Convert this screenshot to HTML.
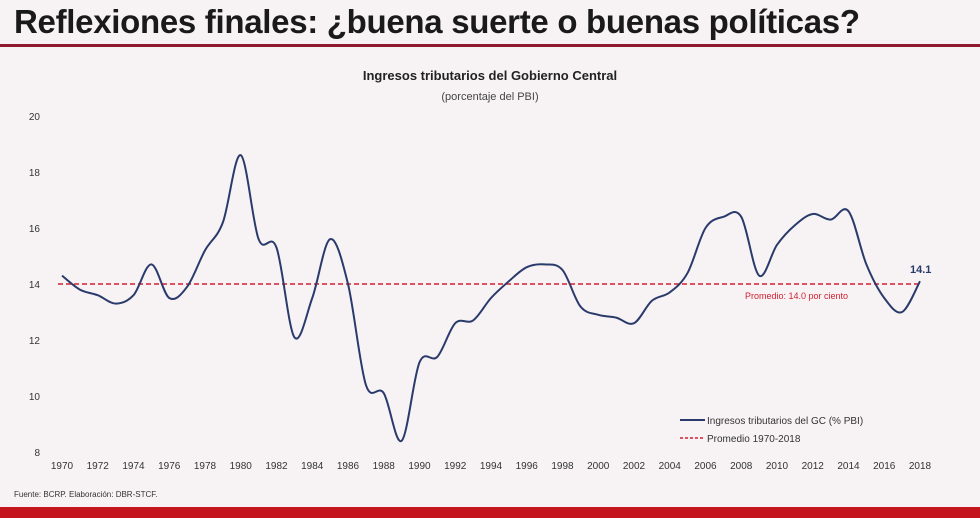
<!DOCTYPE html>
<html><head><meta charset="utf-8"><style>
body{margin:0;width:980px;height:518px;overflow:hidden;background:#f7f3f5;font-family:"Liberation Sans",sans-serif;position:relative}
.t{position:absolute;left:14px;top:3px;font-size:33px;font-weight:bold;color:#1a1a1a;letter-spacing:-0.3px}
.hr{position:absolute;left:0;top:44px;width:980px;height:3px;background:#8e1a2e}
.bot{position:absolute;left:0;top:507px;width:980px;height:11px;background:#c4141e}
svg{position:absolute;left:0;top:0}
</style></head><body>
<div class="t">Reflexiones finales: ¿buena suerte o buenas políticas?</div>
<div class="hr"></div>
<div class="bot"></div>
<svg width="980" height="518" id="s" font-family="Liberation Sans, sans-serif">
<text x="490" y="80" text-anchor="middle" font-size="13" font-weight="bold" fill="#222">Ingresos tributarios del Gobierno Central</text>
<text x="490" y="100" text-anchor="middle" font-size="11" fill="#444">(porcentaje del PBI)</text>
<line x1="58" y1="284" x2="922" y2="284" stroke="#d42030" stroke-width="1.5" stroke-dasharray="5,3"/>
<text x="745" y="299" font-size="9" fill="#d42030">Promedio: 14.0 por ciento</text>
<text x="910" y="273" font-size="11" font-weight="bold" fill="#2a3a6a">14.1</text>
<line x1="680" y1="420" x2="705" y2="420" stroke="#2a3a6a" stroke-width="2"/>
<text x="707" y="424" font-size="10" fill="#333">Ingresos tributarios del GC (% PBI)</text>
<line x1="680" y1="438" x2="705" y2="438" stroke="#d42030" stroke-width="1.5" stroke-dasharray="3,2"/>
<text x="707" y="442" font-size="10" fill="#333">Promedio 1970-2018</text>
<text x="14" y="497" font-size="8" fill="#333">Fuente: BCRP. Elaboración: DBR-STCF.</text>
<path id="p" fill="none" stroke="#2a3a6a" stroke-width="2"/>
<g id="g" font-size="10" fill="#333"></g>
</svg>
<script>
var d=[14.3,13.8,13.6,13.3,13.6,14.7,13.5,13.9,15.2,16.2,18.6,15.6,15.3,12.1,13.5,15.6,14.0,10.4,10.1,8.4,11.2,11.4,12.6,12.7,13.5,14.1,14.6,14.7,14.5,13.2,12.9,12.8,12.6,13.4,13.7,14.4,16.0,16.4,16.4,14.3,15.4,16.1,16.5,16.3,16.6,14.7,13.5,13.0,14.1];
function X(i){return 62+i*17.875}function Y(v){return 452-(v-8)*28}
var P=d.map(function(v,i){return[X(i),Y(v)]});
var s="M"+P[0][0]+","+P[0][1];
for(var i=0;i<P.length-1;i++){var a=P[Math.max(0,i-1)],b=P[i],c=P[i+1],e=P[Math.min(P.length-1,i+2)];
s+=" C"+(b[0]+(c[0]-a[0])/6)+","+(b[1]+(c[1]-a[1])/6)+" "+(c[0]-(e[0]-b[0])/6)+","+(c[1]-(e[1]-b[1])/6)+" "+c[0]+","+c[1];}
document.getElementById("p").setAttribute("d",s);
var g=document.getElementById("g"),h="";
for(var v=8;v<=20;v+=2)h+='<text x="40" y="'+(Y(v)+4)+'" text-anchor="end">'+v+'</text>';
for(var y=1970;y<=2018;y+=2)h+='<text x="'+X(y-1970)+'" y="469" text-anchor="middle">'+y+'</text>';
g.innerHTML=h;
</script>
</body></html>
